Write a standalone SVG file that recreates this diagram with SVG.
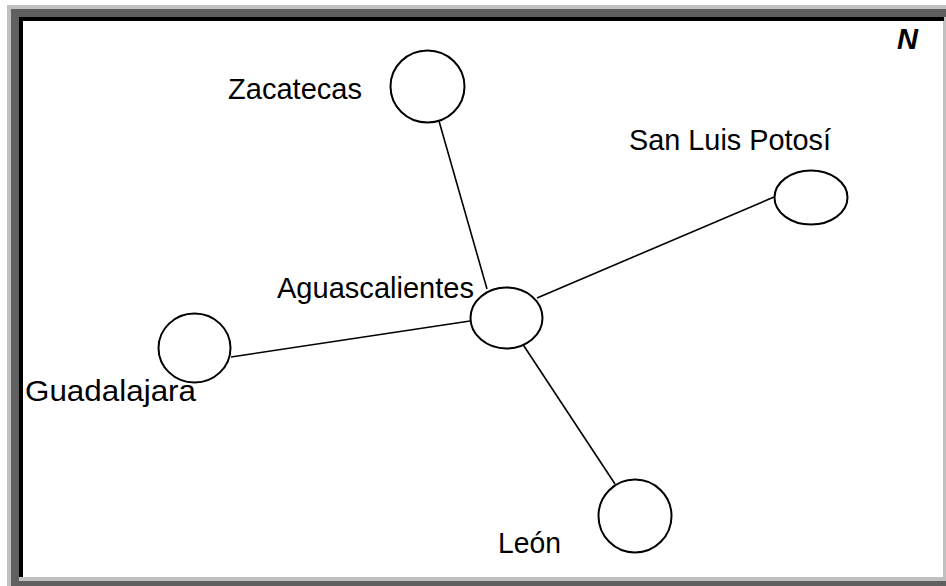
<svg xmlns="http://www.w3.org/2000/svg" width="946" height="586" viewBox="0 0 946 586">
<style>
.node{fill:#fff;stroke:#000;stroke-width:2}
.edge{stroke:#000;stroke-width:1.6;fill:none}
.lbl{font-family:"Liberation Sans",Arial,sans-serif;font-size:29.5px;fill:#000}
</style>
<rect x="0" y="0" width="946" height="586" fill="#fff"/>
<g id="frame">
<rect x="7" y="5" width="939" height="581" fill="#c0c0c0"/>
<rect x="11" y="9" width="935" height="8" fill="#606060"/>
<rect x="11" y="9" width="8" height="577" fill="#606060"/>
<rect x="11" y="581" width="935" height="5" fill="#606060"/>
<rect x="19" y="17" width="925" height="4" fill="#000"/>
<rect x="19" y="17" width="4" height="560" fill="#000"/>
<rect x="23" y="21" width="920" height="556" fill="#fff"/>
</g>
<g id="connectors">
<line class="edge" x1="439" y1="121" x2="487" y2="289"/>
<line class="edge" x1="537" y1="298" x2="774" y2="197"/>
<line class="edge" x1="470" y1="321" x2="231" y2="357"/>
<line class="edge" x1="520" y1="340" x2="615" y2="484"/>
</g>
<g id="zacatecas">
<ellipse class="node" cx="427.5" cy="86.5" rx="37" ry="36"/>
<text class="lbl" x="228" y="99" textLength="134" lengthAdjust="spacingAndGlyphs">Zacatecas</text>
</g>
<g id="san-luis-potosi">
<ellipse class="node" cx="811" cy="197.5" rx="36.5" ry="27"/>
<text class="lbl" x="629" y="150" textLength="202" lengthAdjust="spacingAndGlyphs">San Luis Potosí</text>
</g>
<g id="aguascalientes">
<ellipse class="node" cx="506.5" cy="318" rx="36" ry="30.5"/>
<text class="lbl" x="277" y="298" textLength="197" lengthAdjust="spacingAndGlyphs">Aguascalientes</text>
</g>
<g id="guadalajara">
<ellipse class="node" cx="194.5" cy="348" rx="36" ry="34.5"/>
<text class="lbl" x="25" y="401" textLength="171" lengthAdjust="spacingAndGlyphs">Guadalajara</text>
</g>
<g id="leon">
<ellipse class="node" cx="635" cy="516" rx="36.5" ry="36.5"/>
<text class="lbl" x="498" y="553" textLength="63" lengthAdjust="spacingAndGlyphs">León</text>
</g>
<g id="north">
<text x="897" y="49" style="font-family:'Liberation Sans',Arial,sans-serif;font-size:29px;font-weight:bold;font-style:italic">N</text>
</g>
</svg>
